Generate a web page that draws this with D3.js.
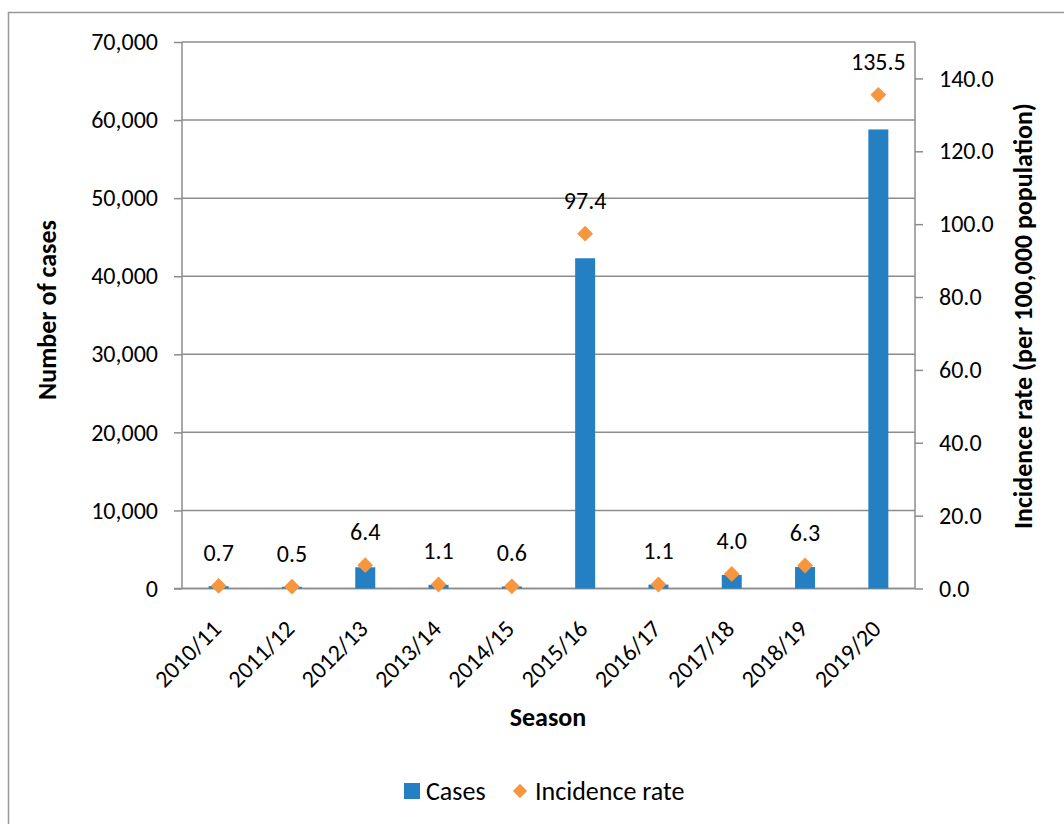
<!DOCTYPE html>
<html>
<head>
<meta charset="utf-8">
<script src="https://cdn.jsdelivr.net/npm/d3@7"></script>
<style>
  body { margin: 0; background: #fff; }
  svg { display: block; font-family: Carlito, Calibri, Lato, "Open Sans", sans-serif; }
</style>
</head>
<body>
<svg id="chart" width="1064" height="824"></svg>
<script>
// Seasonal case counts and incidence per 100,000 population
const seasons = ["2010/11", "2011/12", "2012/13", "2013/14", "2014/15",
                 "2015/16", "2016/17", "2017/18", "2018/19", "2019/20"];
const cases = [300, 220, 2720, 470, 260, 42300, 500, 1730, 2750, 58800];
const incidence = [0.7, 0.5, 6.4, 1.1, 0.6, 97.4, 1.1, 4.0, 6.3, 135.5];
const casesTicks = [0, 10000, 20000, 30000, 40000, 50000, 60000, 70000];
const rateTicks = [0, 20, 40, 60, 80, 100, 120, 140];

const barColor = "#2480C3";
const markColor = "#F7963F";
const axisColor = "#8C8C8C";
const numSize = 24;   // numeric labels
const wordSize = 26;  // words

const svg = d3.select("#chart");
const plot = { left: 182, right: 915, top: 42, bottom: 588.5 };

// outer frame
svg.append("rect")
  .attr("x", 8.5).attr("y", 12.5)
  .attr("width", 1100).attr("height", 900)
  .attr("fill", "none").attr("stroke", "#999").attr("stroke-width", 1.5);

const x = d3.scaleBand().domain(seasons).range([plot.left, plot.right]);
const yCases = d3.scaleLinear().domain([0, 70000]).range([plot.bottom, plot.top]);
const yRate = d3.scaleLinear().domain([0, 150]).range([plot.bottom, plot.top]);

// horizontal gridlines
svg.append("g").selectAll("line").data(casesTicks).join("line")
  .attr("x1", plot.left).attr("x2", plot.right)
  .attr("y1", d => yCases(d)).attr("y2", d => yCases(d))
  .attr("stroke", axisColor).attr("stroke-width", 1.5);

// left axis
const leftAxis = svg.append("g")
  .attr("transform", `translate(${plot.left},0)`)
  .call(d3.axisLeft(yCases).tickValues(casesTicks).tickFormat(d3.format(",")).tickSize(8).tickPadding(16));
// right axis
const rightAxis = svg.append("g")
  .attr("transform", `translate(${plot.right},0)`)
  .call(d3.axisRight(yRate).tickValues(rateTicks).tickFormat(d3.format(".1f")).tickSize(8).tickPadding(16));
// bottom axis
const bottomAxis = svg.append("g")
  .attr("transform", `translate(0,${plot.bottom})`)
  .call(d3.axisBottom(x).tickSize(0).tickPadding(0));

[leftAxis, rightAxis, bottomAxis].forEach(g => {
  g.attr("font-family", null).attr("font-size", null);
  g.select(".domain").attr("stroke", axisColor).attr("stroke-width", 1.5);
  g.selectAll(".tick line").attr("stroke", axisColor).attr("stroke-width", 1.5);
  g.selectAll("text").attr("font-size", numSize).attr("fill", "#000");
});
leftAxis.select(".domain").attr("d", `M0,${plot.top}V${plot.bottom}`);
rightAxis.select(".domain").attr("d", `M0,${plot.top}V${plot.bottom}`);
bottomAxis.select(".domain").attr("d", `M${plot.left - 8},0H${plot.right}`);

bottomAxis.selectAll(".tick text")
  .attr("text-anchor", "end")
  .attr("dy", null)
  .attr("y", null)
  .attr("transform", "translate(4,42) rotate(-45)");

// bars
const barW = 20;
svg.append("g").selectAll("rect").data(seasons).join("rect")
  .attr("x", (d) => x(d) + x.bandwidth() / 2 - barW / 2)
  .attr("width", barW)
  .attr("y", (d, i) => yCases(cases[i]))
  .attr("height", (d, i) => plot.bottom - yCases(cases[i]))
  .attr("fill", barColor);

// incidence markers
const diamond = d3.symbol().type(d3.symbolDiamond2).size(160);
svg.append("g").selectAll("path").data(seasons).join("path")
  .attr("d", diamond)
  .attr("transform", (d, i) => `translate(${x(d) + x.bandwidth() / 2},${yRate(incidence[i])})`)
  .attr("fill", markColor);

// value labels
svg.append("g").selectAll("text").data(seasons).join("text")
  .attr("x", d => x(d) + x.bandwidth() / 2)
  .attr("y", (d, i) => yRate(incidence[i]) - 25)
  .attr("text-anchor", "middle")
  .attr("font-size", numSize)
  .text((d, i) => d3.format(".1f")(incidence[i]));

// axis titles
svg.append("text")
  .attr("transform", "translate(56,310) rotate(-90)")
  .attr("text-anchor", "middle").attr("font-size", wordSize).attr("font-weight", "bold")
  .text("Number of cases");
svg.append("text")
  .attr("transform", "translate(1032,316) rotate(-90)")
  .attr("text-anchor", "middle").attr("font-size", wordSize).attr("font-weight", "bold")
  .text("Incidence rate (per 100,000 population)");
svg.append("text")
  .attr("x", 548).attr("y", 726)
  .attr("text-anchor", "middle").attr("font-size", wordSize).attr("font-weight", "bold")
  .text("Season");

// legend
const legend = svg.append("g");
legend.append("rect").attr("x", 404).attr("y", 783).attr("width", 16).attr("height", 16).attr("fill", barColor);
legend.append("text").attr("x", 426).attr("y", 800).attr("font-size", wordSize).text("Cases");
legend.append("path").attr("d", d3.symbol().type(d3.symbolDiamond2).size(130))
  .attr("transform", "translate(520,791)").attr("fill", markColor);
legend.append("text").attr("x", 535).attr("y", 800).attr("font-size", wordSize).text("Incidence rate");
</script>
</body>
</html>
